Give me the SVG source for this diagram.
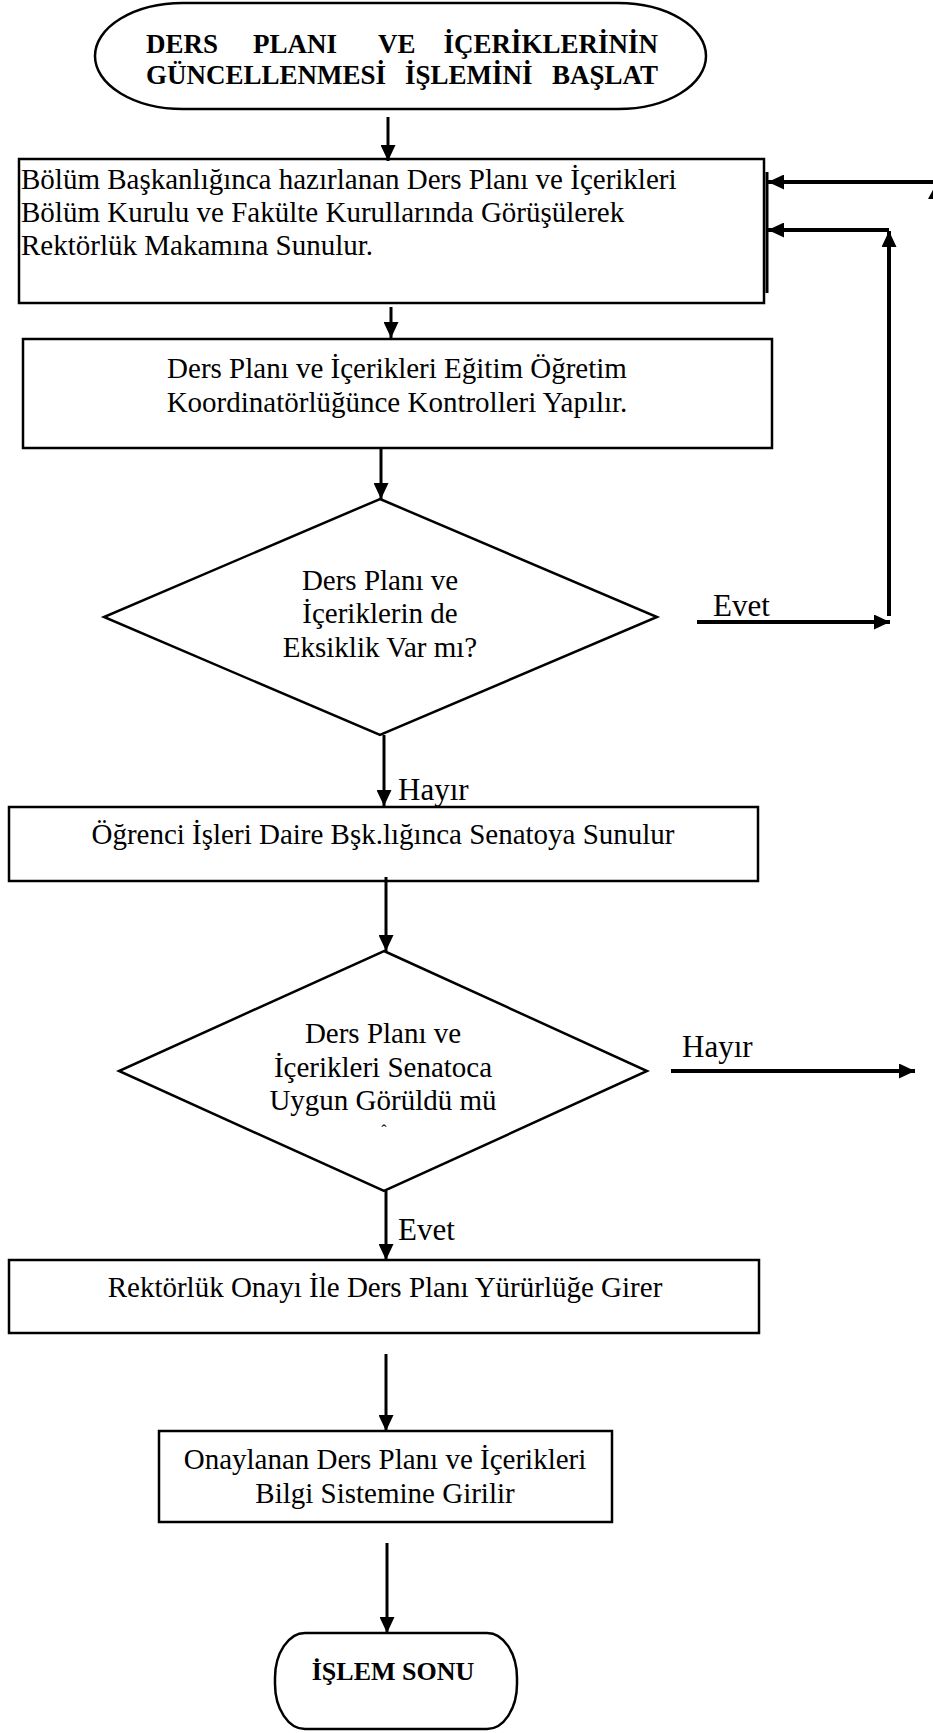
<svg xmlns="http://www.w3.org/2000/svg" width="933" height="1733" viewBox="0 0 933 1733">
<style>
.shape{fill:#fff;stroke:#000;stroke-width:2.5}
.t{font-family:"Liberation Serif","Times New Roman",serif;font-size:29px;fill:#000}
.c{text-anchor:middle}
.b{font-weight:bold;font-size:27px}
.lbl{font-family:"Liberation Serif","Times New Roman",serif;font-size:31px;fill:#000}
.ln{fill:none;stroke:#000;stroke-width:3}
.thick{fill:none;stroke:#000;stroke-width:4}
</style>
<defs>
<marker id="ah" markerUnits="userSpaceOnUse" markerWidth="16" markerHeight="15" refX="16" refY="7.5" orient="auto">
<path d="M0,0 L16,7.5 L0,15 z" fill="#000"/>
</marker>
</defs>
<rect width="933" height="1733" fill="#fff"/>

<g id="start">
<rect class="shape" x="95" y="3" width="611" height="106" rx="88" ry="53"/>
<text class="t b" x="146" y="53">DERS</text>
<text class="t b" x="253" y="53">PLANI</text>
<text class="t b" x="378" y="53">VE</text>
<text class="t b" x="658" y="53" text-anchor="end">İÇERİKLERİNİN</text>
<text class="t b" x="146" y="84">GÜNCELLENMESİ</text>
<text class="t b" x="405" y="84">İŞLEMİNİ</text>
<text class="t b" x="658" y="84" text-anchor="end">BAŞLAT</text>
</g>

<g id="box1">
<rect class="shape" x="19" y="159" width="745" height="144"/>
<text class="t" x="21" y="189">Bölüm Başkanlığınca hazırlanan Ders Planı ve İçerikleri</text>
<text class="t" x="21" y="222">Bölüm Kurulu ve Fakülte Kurullarında Görüşülerek</text>
<text class="t" x="21" y="255">Rektörlük Makamına Sunulur.</text>
</g>

<g id="box2">
<rect class="shape" x="23" y="339" width="749" height="109"/>
<text class="t c" x="397" y="378">Ders Planı ve İçerikleri Eğitim Öğretim</text>
<text class="t c" x="397" y="412">Koordinatörlüğünce Kontrolleri Yapılır.</text>
</g>

<g id="decision1">
<polygon class="shape" points="380,499 657,617 380,735 104,617"/>
<text class="t c" x="380" y="590">Ders Planı ve</text>
<text class="t c" x="380" y="623">İçeriklerin de</text>
<text class="t c" x="380" y="657">Eksiklik Var mı?</text>
</g>

<g id="box3">
<rect class="shape" x="9" y="807" width="749" height="74"/>
<text class="t c" x="383" y="844">Öğrenci İşleri Daire Bşk.lığınca Senatoya Sunulur</text>
</g>

<g id="decision2">
<polygon class="shape" points="384,951 647,1071 384,1191 119,1071"/>
<text class="t c" x="383" y="1043">Ders Planı ve</text>
<text class="t c" x="383" y="1077">İçerikleri Senatoca</text>
<text class="t c" x="383" y="1110">Uygun Görüldü mü</text>
<text class="t c" x="384" y="1136" style="font-size:16px">ˆ</text>
</g>

<g id="box4">
<rect class="shape" x="9" y="1260" width="750" height="73"/>
<text class="t c" x="385" y="1297">Rektörlük Onayı İle Ders Planı Yürürlüğe Girer</text>
</g>

<g id="box5">
<rect class="shape" x="159" y="1431" width="453" height="91"/>
<text class="t c" x="385" y="1469">Onaylanan Ders Planı ve İçerikleri</text>
<text class="t c" x="385" y="1503">Bilgi Sistemine Girilir</text>
</g>

<g id="end">
<rect class="shape" x="275" y="1633" width="242" height="96" rx="30" ry="45"/>
<text class="t c" x="393" y="1680" style="font-weight:bold;font-size:26px">İŞLEM SONU</text>
</g>

<g id="connectors">
<line class="ln" x1="388" y1="117" x2="388" y2="161" marker-end="url(#ah)"/>
<line class="ln" x1="391" y1="307" x2="391" y2="338" marker-end="url(#ah)"/>
<line class="ln" x1="381" y1="448" x2="381" y2="499" marker-end="url(#ah)"/>
<line class="thick" x1="697" y1="622" x2="890" y2="622" marker-end="url(#ah)"/>
<line class="thick" x1="889" y1="616" x2="889" y2="231" marker-end="url(#ah)"/>
<line class="thick" x1="889" y1="230" x2="768" y2="230" marker-end="url(#ah)"/>
<line class="thick" x1="933" y1="182" x2="768" y2="182" marker-end="url(#ah)"/>
<polygon points="928,199 936,184 944,199" fill="#000"/>
<line class="ln" x1="767" y1="172" x2="767" y2="293"/>
<line class="ln" x1="384" y1="735" x2="384" y2="806" marker-end="url(#ah)"/>
<line class="ln" x1="386" y1="877" x2="386" y2="951" marker-end="url(#ah)"/>
<line class="thick" x1="671" y1="1071" x2="915" y2="1071" marker-end="url(#ah)"/>
<line class="ln" x1="386" y1="1191" x2="386" y2="1260" marker-end="url(#ah)"/>
<line class="ln" x1="386" y1="1354" x2="386" y2="1431" marker-end="url(#ah)"/>
<line class="ln" x1="387" y1="1543" x2="387" y2="1633" marker-end="url(#ah)"/>
<text class="lbl" x="713" y="616">Evet</text>
<text class="lbl" x="398" y="800">Hayır</text>
<text class="lbl" x="682" y="1057">Hayır</text>
<text class="lbl" x="398" y="1240">Evet</text>
</g>
</svg>
